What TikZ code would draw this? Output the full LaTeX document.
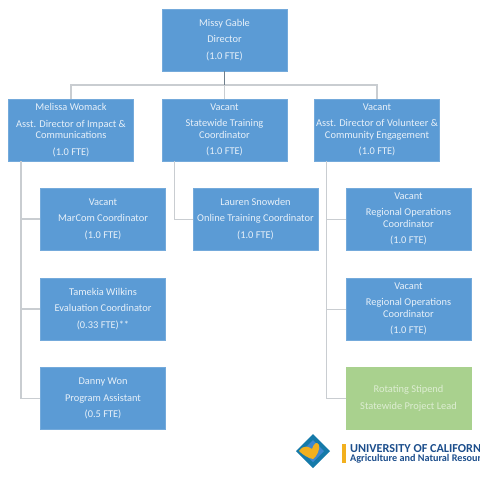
\documentclass[tikz,border=0pt]{standalone}
\usepackage{fontspec}
\setmainfont{Carlito}
\definecolor{boxblue}{HTML}{5B9BD5}
\definecolor{boxgreen}{HTML}{A9D18E}
\definecolor{linegray}{HTML}{C9CDD1}
\definecolor{stemgray}{HTML}{6F7F8C}
\definecolor{ucblue}{HTML}{1C4E8C}
\definecolor{ucgold}{HTML}{F2B01E}
\tikzset{
  staffbox/.style={fill=boxblue, draw=boxblue!85!white, line width=0.6pt, text=white!85!boxblue, minimum width=125pt, minimum height=62pt, inner sep=0pt, align=center, font=\fontsize{10.4}{11.5}\selectfont},
  stipendbox/.style={staffbox, fill=boxgreen, draw=boxgreen, text=white!60!boxgreen},
  orgline/.style={draw=linegray, line width=1.3pt},
  logotext/.style={anchor=west, inner sep=0pt, text=ucblue, font=\bfseries}
}
\begin{document}
\begin{tikzpicture}[x=1pt, y=-1pt]
    \useasboundingbox (0,0) rectangle (480,480);

    \node[staffbox] (director) at (224.5,40) {Missy Gable\\[5pt] Director\\[5pt] (1.0 FTE)};

    \node[staffbox] (womack) at (71,130) {Melissa Womack\\[5pt] Asst. Director of Impact \&\\Communications\\[5pt] (1.0 FTE)};
    \node[staffbox] (training) at (224.5,130) {Vacant\\[5pt] Statewide Training\\Coordinator\\[5pt] (1.0 FTE)};
    \node[staffbox] (volunteer) at (377,130) {Vacant\\[5pt] Asst. Director of Volunteer \&\\Community Engagement\\[5pt] (1.0 FTE)};

    \node[staffbox] (marcom) at (103,219) {Vacant\\[5pt] MarCom Coordinator\\[5pt] (1.0 FTE)};
    \node[staffbox] (evaluation) at (103,309) {Tamekia Wilkins\\[5pt] Evaluation Coordinator\\[5pt] (0.33 FTE)**};
    \node[staffbox] (assistant) at (103,398.5) {Danny Won\\[5pt] Program Assistant\\[5pt] (0.5 FTE)};

    \node[staffbox] (online) at (255.5,219) {Lauren Snowden\\[5pt] Online Training Coordinator\\[5pt] (1.0 FTE)};

    \node[staffbox] (regionala) at (408.5,219) {Vacant\\[5pt] Regional Operations\\Coordinator\\[5pt] (1.0 FTE)};
    \node[staffbox] (regionalb) at (408.5,309) {Vacant\\[5pt] Regional Operations\\Coordinator\\[5pt] (1.0 FTE)};
    \node[stipendbox] (stipend) at (408.5,398.5) {Rotating Stipend\\[5pt] Statewide Project Lead};

    % trunk lines
    \coordinate (bus) at (224.5,85);
    \coordinate (womackdrop) at (21,161);
    \coordinate (trainingdrop) at (174,161);
    \coordinate (volunteerdrop) at (326.5,161);

    \draw[orgline] (bus) -| (womack.north);
    \draw[orgline] (bus) -| (volunteer.north);
    \draw[orgline] (bus) -- (training.north);
    \draw[draw=stemgray, line width=1pt] (director.south) -- (bus);

    \draw[orgline] (womackdrop) |- (marcom.west);
    \draw[orgline] (womackdrop) |- (evaluation.west);
    \draw[orgline] (womackdrop) |- (assistant.west);
    \draw[orgline, line width=1pt] (trainingdrop) |- (online.west);
    \draw[orgline, line width=1pt] (volunteerdrop) |- (regionala.west);
    \draw[orgline, line width=1pt] (volunteerdrop) |- (regionalb.west);
    \draw[orgline, line width=1pt] (volunteerdrop) |- (stipend.west);

    % logo
    \fill[ucblue!75!cyan] (313,434) -- (330,451) -- (313,468) -- (296,451) -- cycle;
    \fill[cyan!55!blue!80!white] (313,440) -- (324,451) -- (313,462) -- (302,451) -- cycle;
    \fill[ucgold] (299,451) .. controls (304,444) and (309,447) .. (312,449) .. controls (314,443) and (317,441) .. (319,445) .. controls (320,450) and (317,456) .. (313,459) .. controls (308,458) and (303,455) .. (299,451) -- cycle;
    \fill[ucgold] (342,444) rectangle (346,463);

    \begin{scope}
    \clip (280,430) rectangle (480,480);
    \node[logotext, font=\bfseries\fontsize{12.2}{13}\selectfont] (ucname) at (350,448.5) {UNIVERSITY OF CALIFORNIA};
    \node[logotext, font=\bfseries\fontsize{10.2}{11}\selectfont] (anrname) at (350,459) {Agriculture and Natural Resources};
    \end{scope}
\end{tikzpicture}
\end{document}
